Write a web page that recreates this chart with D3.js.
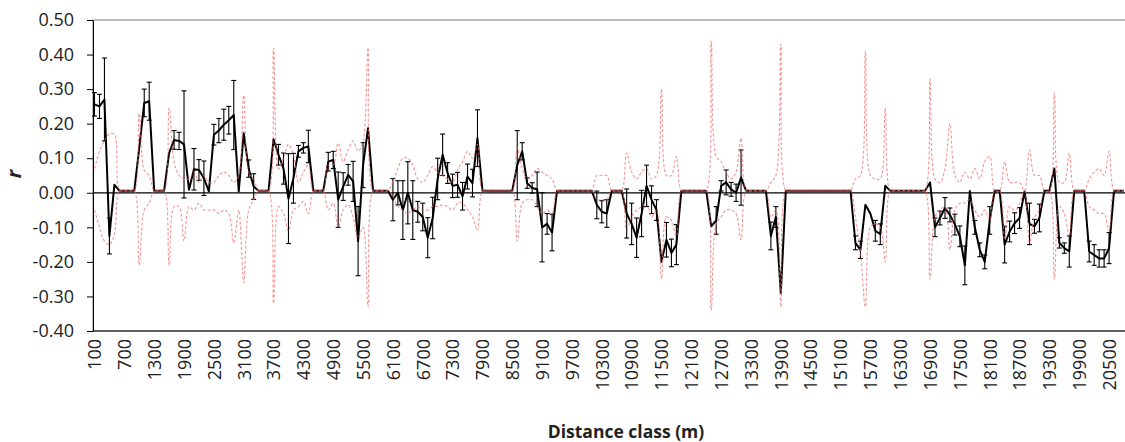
<!DOCTYPE html>
<html><head><meta charset="utf-8">
<script src="https://cdn.jsdelivr.net/npm/d3@7"></script>
<style>body{margin:0;background:#fff}</style>
</head><body><svg id="c" width="1125" height="442"></svg>
<script>
// Distance classes (m): 100 .. 20800 in 100 m steps
const distanceClasses = d3.range(100, 20900, 100);
const xTickLabels = ["100","700","1300","1900","2500","3100","3700","4300","4900","5500","6100","6700","7300","7900","8500","9100","9700","10300","10900","11500","12100","12700","13300","13900","14500","15100","15700","16300","16900","17500","18100","18700","19300","19900","20500"];
const yTicks = [-0.4,-0.3,-0.2,-0.1,0,0.1,0.2,0.3,0.4,0.5];

// r (autocorrelation)
const rValues = [
 0.256,0.25,0.27,-0.125,0.023,0.006,0.006,0.006,0.006,0.13,
 0.26,0.265,0.006,0.006,0.006,0.115,0.153,0.15,0.14,0.009,
 0.068,0.066,0.042,0.004,0.168,0.18,0.197,0.21,0.225,0.004,
 0.172,0.07,0.018,0.006,0.006,0.006,0.155,0.11,0.07,-0.017,
 0.042,0.12,0.13,0.134,0.006,0.006,0.006,0.09,0.095,-0.02,
 0.018,0.052,0.033,-0.14,0.08,0.187,0.006,0.006,0.006,0.006,
 -0.02,0.0,-0.05,0.0,-0.05,-0.055,-0.07,-0.13,-0.073,0.04,
 0.11,0.057,0.02,0.023,-0.01,0.047,0.028,0.158,0.006,0.006,
 0.006,0.006,0.006,0.006,0.006,0.08,0.12,0.028,0.014,0.01,
 -0.10,-0.09,-0.115,0.006,0.006,0.006,0.006,0.006,0.006,0.006,
 0.006,-0.035,-0.055,-0.06,0.006,0.006,0.006,-0.06,-0.09,-0.13,
 -0.06,0.02,-0.02,-0.05,-0.20,-0.136,-0.174,-0.15,0.006,0.006,
 0.006,0.006,0.006,0.006,-0.097,-0.08,0.02,0.03,0.01,0.0,
 0.044,0.006,0.006,0.006,0.006,0.006,-0.125,-0.07,-0.29,0.006,
 0.006,0.006,0.006,0.006,0.006,0.006,0.006,0.006,0.006,0.006,
 0.006,0.006,0.006,-0.145,-0.165,-0.035,-0.06,-0.11,-0.12,0.02,
 0.006,0.006,0.006,0.006,0.006,0.006,0.006,0.006,0.03,-0.10,
 -0.073,-0.044,-0.064,-0.092,-0.126,-0.21,0.005,-0.10,-0.165,-0.20,
 -0.08,0.006,0.006,-0.15,-0.112,-0.088,-0.073,0.004,-0.09,-0.097,
 -0.073,0.006,0.006,0.07,-0.145,-0.16,-0.17,0.006,0.006,0.006,
 -0.17,-0.18,-0.19,-0.19,-0.16,0.006,0.006,0.006
];

// error bar half-widths (null = no bar)
const errValues = [
 0.034,0.035,0.12,0.052,null,null,null,null,null,null,
 0.04,0.055,null,null,null,null,0.027,0.025,0.155,null,
 0.06,0.03,0.05,null,0.03,0.035,0.045,0.04,0.1,null,
 null,0.025,0.037,null,null,null,null,0.03,0.045,0.13,
 0.072,0.017,0.015,0.047,null,null,null,0.027,0.025,0.08,
 0.04,0.03,0.058,0.1,0.065,null,null,null,null,null,
 0.061,0.035,0.085,0.09,0.085,0.03,0.04,0.058,0.06,0.06,
 0.06,0.03,0.034,0.036,0.04,0.036,0.04,0.082,null,null,
 null,null,null,null,null,0.1,0.025,0.015,0.015,0.05,
 0.1,0.03,0.053,null,null,null,null,null,null,null,
 null,0.04,0.032,0.04,null,null,null,0.071,0.06,0.057,
 0.067,0.06,0.04,0.03,null,0.05,0.04,0.058,null,null,
 null,null,null,null,null,0.04,0.015,0.036,0.02,0.025,
 0.08,null,null,null,null,null,0.04,0.03,null,null,
 null,null,null,null,null,null,null,null,null,null,
 null,null,null,0.02,0.025,null,null,0.03,0.03,null,
 null,null,null,null,null,null,null,null,null,0.027,
 0.02,0.03,0.02,0.03,0.03,0.056,null,0.02,0.02,0.02,
 0.04,null,null,0.053,0.03,0.03,0.03,null,0.06,0.02,
 0.04,null,null,null,0.015,0.015,0.045,null,null,null,
 0.03,0.03,0.025,0.025,0.045,null,null,null
];

// upper confidence limit
const upperCI = [
 0.07,0.12,0.15,0.17,0.17,0.006,0.006,0.006,0.006,0.23,
 0.066,0.05,0.006,0.006,0.006,0.245,0.09,0.05,0.04,0.04,
 0.06,0.03,0.05,0.03,0.03,0.05,0.06,0.05,0.03,0.05,
 0.283,0.06,0.04,0.006,0.006,0.006,0.418,0.07,0.10,0.14,
 0.11,0.03,0.06,0.08,0.006,0.006,0.006,0.08,0.08,0.144,
 0.09,0.124,0.15,0.12,0.15,0.42,0.006,0.006,0.006,0.006,
 0.033,0.07,0.10,0.10,0.08,0.04,0.03,0.05,0.076,0.06,
 0.05,0.04,0.03,0.066,0.09,0.12,0.10,0.14,0.006,0.006,
 0.006,0.006,0.006,0.006,0.006,0.13,0.07,0.04,0.05,0.07,
 0.06,0.05,0.04,0.006,0.006,0.006,0.006,0.006,0.006,0.006,
 0.006,0.05,0.05,0.05,0.006,0.006,0.006,0.115,0.06,0.04,
 0.06,0.07,0.04,0.05,0.30,0.05,0.05,0.105,0.006,0.006,
 0.006,0.006,0.006,0.006,0.44,0.105,0.09,0.06,0.04,0.06,
 0.158,0.006,0.006,0.006,0.006,0.006,0.03,0.05,0.43,0.006,
 0.006,0.006,0.006,0.006,0.006,0.006,0.006,0.006,0.006,0.006,
 0.006,0.006,0.006,0.04,0.05,0.41,0.05,0.04,0.04,0.245,
 0.006,0.006,0.006,0.006,0.006,0.006,0.006,0.006,0.33,0.04,
 0.03,0.07,0.20,0.05,0.03,0.06,0.04,0.07,0.04,0.09,
 0.105,0.006,0.006,0.09,0.03,0.03,0.03,0.006,0.124,0.05,
 0.05,0.006,0.006,0.29,0.03,0.03,0.115,0.006,0.006,0.006,
 0.04,0.06,0.07,0.05,0.12,0.006,0.006,0.006
];

// lower confidence limit
const lowerCI = [
 -0.05,-0.10,-0.14,-0.15,-0.12,0.006,0.006,0.006,0.006,-0.21,
 -0.05,-0.03,0.006,0.006,0.006,-0.21,-0.04,-0.04,-0.14,-0.04,
 -0.05,-0.03,-0.05,-0.05,-0.05,-0.06,-0.05,-0.06,-0.145,-0.05,
 -0.26,-0.05,-0.02,0.006,0.006,0.006,-0.32,-0.04,-0.06,-0.11,
 -0.05,-0.04,-0.025,-0.06,0.006,0.006,0.006,-0.05,-0.03,-0.10,
 -0.05,-0.035,-0.07,-0.13,-0.10,-0.33,0.006,0.006,0.006,0.006,
 -0.01,-0.04,-0.05,-0.06,-0.05,-0.04,-0.05,-0.05,-0.04,-0.04,
 -0.035,-0.04,-0.05,-0.03,-0.03,-0.05,-0.07,-0.11,0.006,0.006,
 0.006,0.006,0.006,0.006,0.006,-0.14,-0.03,-0.02,-0.02,-0.04,
 -0.06,-0.05,-0.06,0.006,0.006,0.006,0.006,0.006,0.006,0.006,
 0.006,-0.02,-0.02,-0.02,0.006,0.006,0.006,-0.107,-0.07,-0.05,
 -0.04,-0.03,-0.07,-0.05,-0.25,-0.07,-0.08,-0.126,0.006,0.006,
 0.006,0.006,0.006,0.006,-0.34,-0.09,-0.07,-0.05,-0.05,-0.06,
 -0.136,0.006,0.006,0.006,0.006,0.006,-0.07,-0.05,-0.33,0.006,
 0.006,0.006,0.006,0.006,0.006,0.006,0.006,0.006,0.006,0.006,
 0.006,0.006,0.006,-0.07,-0.17,-0.33,-0.10,-0.09,-0.10,-0.20,
 0.006,0.006,0.006,0.006,0.006,0.006,0.006,0.006,-0.25,-0.07,
 -0.05,-0.04,-0.165,-0.05,-0.03,-0.03,-0.02,-0.05,-0.07,-0.05,
 -0.08,0.006,0.006,-0.135,-0.04,-0.05,-0.03,0.006,-0.145,-0.07,
 -0.05,0.006,0.006,-0.25,-0.04,-0.06,-0.126,0.006,0.006,0.006,
 -0.04,-0.05,-0.06,-0.06,-0.11,0.006,0.006,0.006
];

const W = 1125, H = 442;
const mLeft = 93, mTop = 20, mBottom = 331;
const svg = d3.select("#c");
const FONT = "'Open Sans', sans-serif";

const x = d3.scalePoint().domain(distanceClasses).range([94.5, 1124]);
const y = d3.scaleLinear().domain([-0.4, 0.5]).range([mBottom, mTop]);

// plot frame
svg.append("rect").attr("x", mLeft).attr("y", mTop).attr("width", W - mLeft + 5).attr("height", mBottom - mTop)
  .attr("fill", "none").attr("stroke", "#7f7f7f").attr("stroke-width", 1);

// zero line
svg.append("line").attr("x1", mLeft).attr("x2", W).attr("y1", y(0)).attr("y2", y(0))
  .attr("stroke", "#000").attr("stroke-width", 1.3);

// y axis
const yAxis = d3.axisLeft(y).tickValues(yTicks).tickSize(6).tickSizeOuter(0)
  .tickFormat(d => d.toFixed(2));
const gy = svg.append("g").attr("transform", `translate(${mLeft},0)`).call(yAxis);
gy.select(".domain").attr("stroke", "#000");
gy.selectAll(".tick line").attr("stroke", "#000");
gy.selectAll(".tick text").attr("font-family", FONT).attr("font-size", 18).attr("fill", "#222").attr("x", -19);

// x axis labels
const xAxis = d3.axisBottom(x).tickValues(xTickLabels.map(Number)).tickSize(0).tickSizeOuter(0);
const gx = svg.append("g").attr("transform", `translate(0,${mBottom})`).call(xAxis);
gx.select(".domain").attr("stroke", "#000").attr("d", `M${mLeft},0H${W}`);
gx.selectAll(".tick text").attr("font-family", FONT).attr("font-size", 18).attr("fill", "#222")
  .attr("transform", "rotate(-90)").attr("text-anchor", "end").attr("dy", "0.35em").attr("x", -8).attr("y", 0);

const pts = distanceClasses.map((c, i) => ({c, r: rValues[i], e: errValues[i], u: upperCI[i], l: lowerCI[i]}));

// black r line
svg.append("path").datum(pts)
  .attr("d", d3.line().x(d => x(d.c)).y(d => y(d.r)))
  .attr("fill", "none").attr("stroke", "#000").attr("stroke-width", 2).attr("stroke-linejoin", "round");

// error bars
const eb = svg.append("g").attr("stroke", "#000").attr("stroke-width", 1.1);
pts.filter(d => d.e != null).forEach(d => {
  const cx = x(d.c), y1 = y(d.r + d.e), y2 = y(d.r - d.e);
  eb.append("line").attr("x1", cx).attr("x2", cx).attr("y1", y1).attr("y2", y2);
  eb.append("line").attr("x1", cx - 2.5).attr("x2", cx + 2.5).attr("y1", y1).attr("y2", y1);
  eb.append("line").attr("x1", cx - 2.5).attr("x2", cx + 2.5).attr("y1", y2).attr("y2", y2);
});

// confidence limits (red dashed, smoothed)
const ciLine = key => d3.line().curve(d3.curveCatmullRom.alpha(0.5)).x(d => x(d.c)).y(d => y(d[key]));
["u", "l"].forEach(k => {
  svg.append("path").datum(pts).attr("d", ciLine(k))
    .attr("fill", "none").attr("stroke", "#f06868").attr("stroke-opacity", 0.7)
    .attr("stroke-width", 1.1).attr("stroke-dasharray", "3,2");
});

// titles
svg.append("text").attr("x", 626).attr("y", 438).attr("text-anchor", "middle")
  .attr("font-family", FONT).attr("font-weight", "bold").attr("font-size", 17.5).attr("fill", "#222")
  .text("Distance class (m)");
svg.append("text").attr("transform", "translate(21,174) rotate(-90)").attr("text-anchor", "middle")
  .attr("font-family", FONT).attr("font-weight", "bold").attr("font-style", "italic").attr("font-size", 20).attr("fill", "#222")
  .text("r");
</script></body></html>
